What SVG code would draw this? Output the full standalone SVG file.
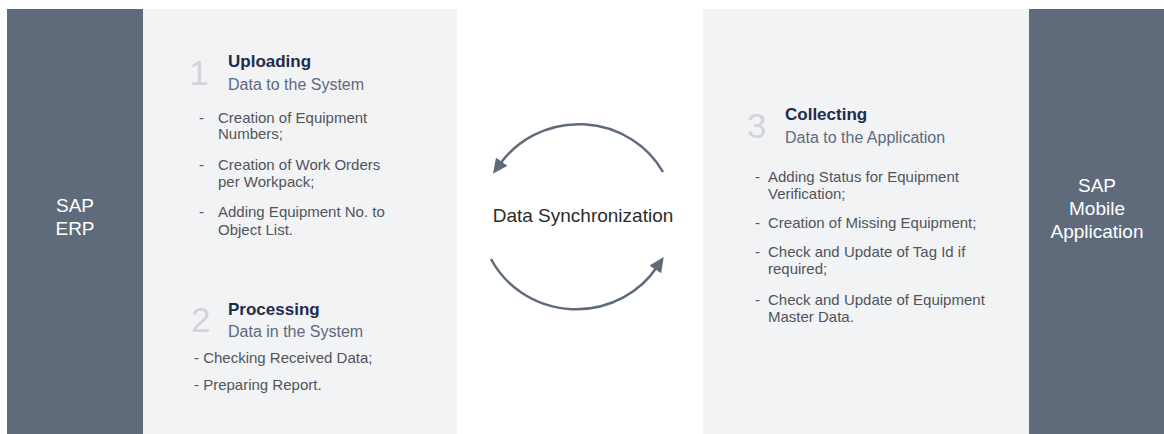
<svg xmlns="http://www.w3.org/2000/svg" width="1164" height="434" viewBox="0 0 1164 434">
<style>
.dark{fill:#5f6b7b}
.light{fill:#f2f3f5}
.lbl{font-family:"Liberation Sans",Arial,sans-serif;font-size:19px;fill:#ffffff;text-anchor:middle}
.num{font-family:"Liberation Sans",Arial,sans-serif;font-size:35px;fill:#d3d4d8}
.ttl{font-family:"Liberation Sans",Arial,sans-serif;font-size:17px;font-weight:bold;fill:#1f2b4d}
.sub{font-family:"Liberation Sans",Arial,sans-serif;font-size:16px;fill:#5d6a7e}
.body{font-family:"Liberation Sans",Arial,sans-serif;font-size:15px;fill:#50555c}
.sync{font-family:"Liberation Sans",Arial,sans-serif;font-size:19px;fill:#2b2b2b;text-anchor:middle}
.arc{fill:none;stroke:#5f6b7b;stroke-width:2.5}
</style>
<defs>
<marker id="ah" markerUnits="userSpaceOnUse" markerWidth="15" markerHeight="14" viewBox="0 0 15 14" refX="3" refY="7" orient="auto">
<path d="M0,0 L15,7 L0,14 z" fill="#5f6b7b"/>
</marker>
</defs>
<rect class="light" x="143" y="9" width="314" height="425"/>
<rect class="light" x="703" y="9" width="326" height="425"/>
<g id="sap-erp">
<rect class="dark" x="7" y="9" width="136" height="425"/>
<text class="lbl" x="75" y="212">SAP</text>
<text class="lbl" x="75" y="235">ERP</text>
</g>
<g id="sap-mobile">
<rect class="dark" x="1029" y="9" width="135" height="425"/>
<text class="lbl" x="1097" y="192">SAP</text>
<text class="lbl" x="1097" y="215">Mobile</text>
<text class="lbl" x="1097" y="238">Application</text>
</g>
<g id="step1">
<text class="num" x="189" y="85">1</text>
<text class="ttl" x="228" y="67">Uploading</text>
<text class="sub" x="228" y="90">Data to the System</text>
<text class="body" x="199" y="123">-</text>
<text class="body" x="218" y="123">Creation of Equipment</text>
<text class="body" x="218" y="139">Numbers;</text>
<text class="body" x="199" y="170">-</text>
<text class="body" x="218" y="170">Creation of Work Orders</text>
<text class="body" x="218" y="187">per Workpack;</text>
<text class="body" x="199" y="217">-</text>
<text class="body" x="218" y="217">Adding Equipment No. to</text>
<text class="body" x="218" y="235">Object List.</text>
</g>
<g id="step2">
<text class="num" x="191" y="332">2</text>
<text class="ttl" x="228" y="315">Processing</text>
<text class="sub" x="228" y="337">Data in the System</text>
<text class="body" x="194" y="363">- Checking Received Data;</text>
<text class="body" x="194" y="390">- Preparing Report.</text>
</g>
<g id="step3">
<text class="num" x="747" y="138">3</text>
<text class="ttl" x="785" y="120">Collecting</text>
<text class="sub" x="785" y="143">Data to the Application</text>
<text class="body" x="755" y="182">-</text>
<text class="body" x="768" y="182">Adding Status for Equipment</text>
<text class="body" x="768" y="199">Verification;</text>
<text class="body" x="755" y="228">-</text>
<text class="body" x="768" y="228">Creation of Missing Equipment;</text>
<text class="body" x="755" y="257">-</text>
<text class="body" x="768" y="257">Check and Update of Tag Id if</text>
<text class="body" x="768" y="274">required;</text>
<text class="body" x="755" y="305">-</text>
<text class="body" x="768" y="305">Check and Update of Equipment</text>
<text class="body" x="768" y="322">Master Data.</text>
</g>
<g id="sync">
<text class="sync" x="583" y="222">Data Synchronization</text>
</g>
<g id="connectors">
<path class="arc" d="M663,172 A96,92.5 0 0 0 500,164" marker-end="url(#ah)"/>
<path class="arc" d="M491,259 A96,92.5 0 0 0 657,267" marker-end="url(#ah)"/>
</g>
</svg>
